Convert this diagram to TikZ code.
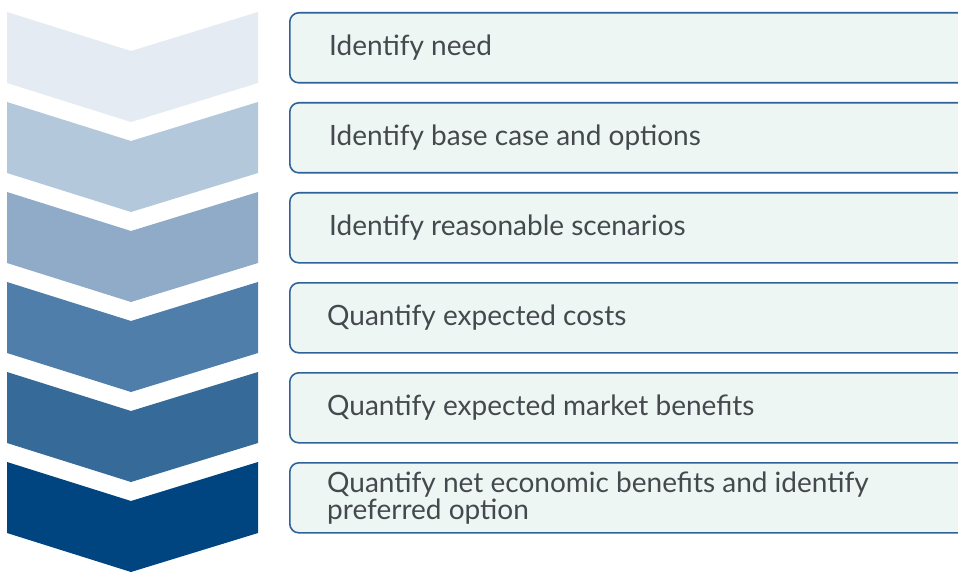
\documentclass[tikz,border=0pt]{standalone}
\usepackage{fontspec}
\setmainfont{Lato}
\usetikzlibrary{positioning}

\definecolor{stepA}{HTML}{E4EBF3}
\definecolor{stepB}{HTML}{B4C8DB}
\definecolor{stepC}{HTML}{8FABC8}
\definecolor{stepD}{HTML}{4F7EAB}
\definecolor{stepE}{HTML}{366A99}
\definecolor{stepF}{HTML}{00457F}
\definecolor{boxline}{HTML}{2F6296}
\definecolor{boxfill}{HTML}{EEF6F3}
\definecolor{textgray}{HTML}{45494D}

\begin{document}
\begin{tikzpicture}[x=1pt,y=-1pt,
  stepbox/.style={draw=boxline,line width=1.6pt,fill=boxfill,rounded corners=9pt,
    minimum width=700pt,minimum height=70pt,anchor=north west,inner sep=0pt},
  steptext/.style={text=textgray,font=\fontsize{28}{27}\selectfont,anchor=west,
    align=left,inner sep=0pt}]
  \useasboundingbox (0,0) rectangle (958,572);
  \clip (0,0) rectangle (958,572);

  %chevrons
  \foreach \i/\col in {0/stepA,1/stepB,2/stepC,3/stepD,4/stepE,5/stepF}{
    \fill[\col] (7,12+90*\i) -- (131,51+90*\i) -- (258,12+90*\i) -- (258,83+90*\i)
      -- (131,122+90*\i) -- (7,83+90*\i) -- cycle;
  }

  %boxes
  \foreach \i in {1,...,6}{
    \node[stepbox] (box\i) at (289,12+90*\i-90) {};
  }

  %labels
  \node[steptext,right=40pt of box1.west] (need) {Identify need};
  \node[steptext,right=40pt of box2.west] (base) {Identify base case and options};
  \node[steptext,right=40pt of box3.west] (scen) {Identify reasonable scenarios};
  \node[steptext,right=38pt of box4.west] (cost) {Quantify expected costs};
  \node[steptext,right=38pt of box5.west] (bene) {Quantify expected market benefits};
  \node[steptext,right=38pt of box6.west] (net) {Quantify net economic benefits and identify\\preferred option};
\end{tikzpicture}
\end{document}
